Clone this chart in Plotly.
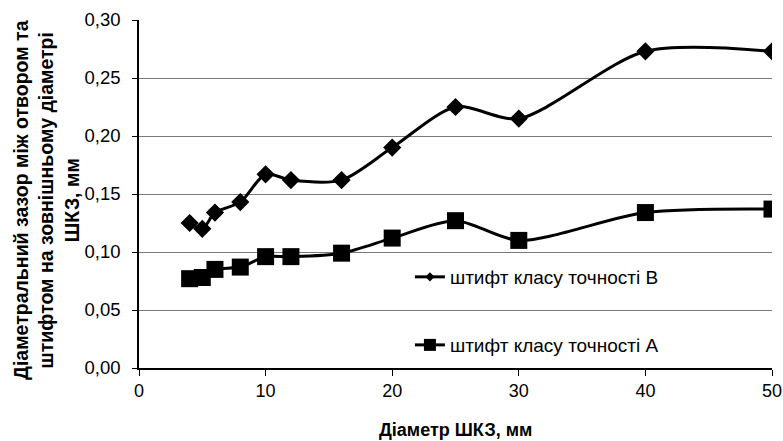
import plotly.graph_objects as go

x_b = [4, 5, 6, 8, 10, 12, 16, 20, 25, 30, 40, 50]
y_b = [0.125, 0.120, 0.134, 0.143, 0.167, 0.162, 0.162, 0.190, 0.225, 0.215, 0.273, 0.273]
x_a = [4, 5, 6, 8, 10, 12, 16, 20, 25, 30, 40, 50]
y_a = [0.077, 0.078, 0.085, 0.087, 0.096, 0.096, 0.099, 0.112, 0.127, 0.110, 0.134, 0.137]
name_b = "штифт класу точності В"
name_a = "штифт класу точності А"
x_title = "Діаметр ШКЗ, мм"
y_title = "Діаметральний зазор між отвором та<br>штифтом на зовнішньому діаметрі<br>ШКЗ, мм"

FONT = "Liberation Sans, Arial, sans-serif"
LINE = dict(color="black", width=3, shape="spline", smoothing=0.8)

fig = go.Figure()
fig.add_trace(go.Scatter(
    x=x_b, y=y_b, name=name_b, mode="lines+markers", line=LINE,
    marker=dict(symbol="diamond", size=14, color="black"), showlegend=False,
))
fig.add_trace(go.Scatter(
    x=x_a, y=y_a, name=name_a, mode="lines+markers", line=LINE,
    marker=dict(symbol="square", size=17, color="black"), showlegend=False,
))
# legend entries (smaller legend symbols, as in the reference)
fig.add_trace(go.Scatter(
    x=[None], y=[None], name=name_b, mode="lines+markers",
    line=dict(color="black", width=3), marker=dict(symbol="diamond", size=7, color="black"),
    legend="legend", showlegend=True,
))
fig.add_trace(go.Scatter(
    x=[None], y=[None], name=name_a, mode="lines+markers",
    line=dict(color="black", width=3), marker=dict(symbol="square", size=12, color="black"),
    legend="legend2", showlegend=True,
))

fig.update_layout(
    width=783, height=441,
    margin=dict(l=139, r=11, t=20, b=73, autoexpand=False),
    plot_bgcolor="white", paper_bgcolor="white",
    separators=",.",
    showlegend=True,
    font=dict(family=FONT, size=18, color="black"),
    legend=dict(x=0.428, y=0.2615, xanchor="left", yanchor="middle", visible=True,
                bgcolor="rgba(0,0,0,0)", font=dict(size=19, family=FONT)),
    legend2=dict(x=0.428, y=0.066, xanchor="left", yanchor="middle", visible=True,
                 bgcolor="rgba(0,0,0,0)", font=dict(size=19, family=FONT)),
    xaxis=dict(range=[0, 50], dtick=10, tick0=0, showgrid=False, zeroline=False,
               showline=True, linecolor="black", linewidth=1.5, automargin=False,
               ticks="outside", ticklen=6, tickcolor="black",
               tickfont=dict(size=18, family=FONT)),
    yaxis=dict(range=[0, 0.30], dtick=0.05, tick0=0, tickformat=".2f",
               showgrid=True, gridcolor="#7a7a7a", gridwidth=1.2, zeroline=False,
               showline=True, linecolor="black", linewidth=1.5, automargin=False,
               ticks="outside", ticklen=5, tickcolor="black", ticklabelstandoff=8,
               tickfont=dict(size=18.5, family=FONT)),
    annotations=[
        dict(text="<b>" + x_title + "</b>", xref="paper", yref="paper",
             x=0.5, y=-(430 - 368) / 348, xanchor="center", yanchor="middle",
             showarrow=False, font=dict(size=18, family=FONT)),
        dict(text="<b>" + y_title + "</b>", xref="paper", yref="paper",
             x=-(139 - 47) / 633, y=(368 - 200) / 348, xanchor="center", yanchor="middle",
             textangle=-90, showarrow=False, font=dict(size=19.5, family=FONT)),
    ],
)

fig.write_html(
    "out.html",
    config={"displayModeBar": False},
    post_script="document.body.style.margin='0';document.body.style.overflow='hidden';",
)
